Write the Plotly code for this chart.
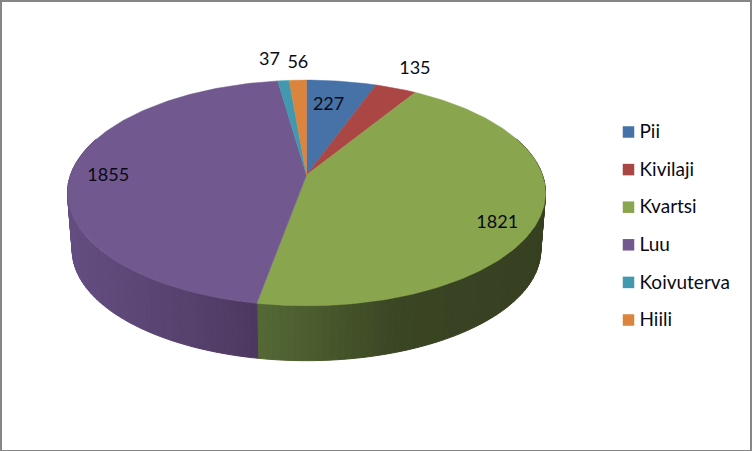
import math
import plotly.graph_objects as go

# data
categories = ["Pii", "Kivilaji", "Kvartsi", "Luu", "Koivuterva", "Hiili"]
values = [227, 135, 1821, 1855, 37, 56]
colors = ["#4672A8", "#AA4643", "#89A54E", "#71588F", "#4198AF", "#DB843D"]

# presentation of the tilted pie
CX, CY, A, B, K = 306.5, 175.0, 236.0, 110.0, 0.159
DEPTH, BOTTOM_SCALE = 57.5, 0.98
LABEL_FONT = 18
LABEL_OFFSETS = [(-13, 24), (19, -19), (-43, 7), (37, 4), (-14, -20), (0, -17)]
LEGEND_X, LEGEND_Y0, LEGEND_STEP = 628.5, 132.0, 37.6
FONT = "Lato, Carlito, sans-serif"

# screen-x colour stops for the shaded rim, per visible slice
RIM = {
    2: [(250, (86, 106, 54)), (330, (71, 87, 43)), (400, (58, 69, 36)), (550, (54, 64, 33))],
    3: [(60, (100, 78, 130)), (100, (96, 74, 124)), (200, (85, 63, 107)), (260, (75, 55, 94))],
}


def project(theta, scale=1.0, dy=0.0):
    s, c = math.sin(theta), math.cos(theta)
    den = 1 + K * c
    return CX + scale * A * s / den, CY + dy - scale * B * c / den


def rim_colour(stops, x):
    if x <= stops[0][0]:
        return stops[0][1]
    for (x0, c0), (x1, c1) in zip(stops, stops[1:]):
        if x <= x1:
            t = (x - x0) / (x1 - x0)
            return tuple(c0[i] + t * (c1[i] - c0[i]) for i in range(3))
    return stops[-1][1]


total = sum(values)
edges = [0.0]
for v in values:
    edges.append(edges[-1] + v / total * 2 * math.pi)

fig = go.Figure()

# side wall: narrow quads along the front of the rim
for i, stops in RIM.items():
    a0, a1 = edges[i], edges[i + 1]
    lo, hi = max(a0, math.radians(70)), min(a1, math.radians(290))
    n = max(2, int((hi - lo) / math.radians(1.5)))
    for j in range(n):
        t0 = lo + (hi - lo) * j / n
        t1 = lo + (hi - lo) * (j + 1) / n
        p0, p1 = project(t0), project(t1)
        q1, q0 = project(t1, BOTTOM_SCALE, DEPTH), project(t0, BOTTOM_SCALE, DEPTH)
        r, g, b = rim_colour(stops, (p0[0] + p1[0]) / 2)
        col = f"rgb({r:.0f},{g:.0f},{b:.0f})"
        fig.add_trace(go.Scatter(
            x=[p0[0], p1[0], q1[0], q0[0], p0[0]],
            y=[p0[1], p1[1], q1[1], q0[1], p0[1]],
            mode="lines", fill="toself", fillcolor=col,
            line=dict(color=col, width=1), hoverinfo="skip", showlegend=False,
        ))

# top face
for i, name in enumerate(categories):
    a0, a1 = edges[i], edges[i + 1]
    n = max(4, int((a1 - a0) / math.radians(1)))
    pts = [project(a0 + (a1 - a0) * j / n) for j in range(n + 1)]
    xs = [CX] + [p[0] for p in pts] + [CX]
    ys = [CY] + [p[1] for p in pts] + [CY]
    fig.add_trace(go.Scatter(
        x=xs, y=ys, mode="lines", fill="toself", fillcolor=colors[i],
        line=dict(color=colors[i], width=0.5), name=name,
        hovertemplate=f"{name}: {values[i]}<extra></extra>", showlegend=False,
    ))

# data labels
lx, ly = [], []
for i in range(len(values)):
    px, py = project((edges[i] + edges[i + 1]) / 2)
    lx.append(px + LABEL_OFFSETS[i][0])
    ly.append(py + LABEL_OFFSETS[i][1])
fig.add_trace(go.Scatter(
    x=lx, y=ly, mode="text", text=[str(v) for v in values],
    textposition="middle center",
    textfont=dict(family=FONT, size=LABEL_FONT, color="#0A0A14"),
    hoverinfo="skip", showlegend=False,
))

# legend column
for i, name in enumerate(categories):
    fig.add_trace(go.Scatter(
        x=[LEGEND_X], y=[LEGEND_Y0 + i * LEGEND_STEP], mode="markers",
        marker=dict(symbol="square", size=11.5, color=colors[i]),
        hoverinfo="skip", showlegend=False,
    ))
    fig.add_trace(go.Scatter(
        x=[LEGEND_X + 11], y=[LEGEND_Y0 + 1.5 + i * LEGEND_STEP], mode="text",
        text=[name], textposition="middle right",
        textfont=dict(family=FONT, size=LABEL_FONT + 1, color="#0A0A14"),
        hoverinfo="skip", showlegend=False,
    ))

fig.update_layout(
    width=752, height=451, margin=dict(l=0, r=0, t=0, b=0),
    paper_bgcolor="white", plot_bgcolor="white", showlegend=False,
    xaxis=dict(range=[0, 752], visible=False, fixedrange=True),
    yaxis=dict(range=[451, 0], visible=False, fixedrange=True),
    shapes=[dict(type="rect", xref="x", yref="y", x0=1, y0=1, x1=751, y1=451,
                 line=dict(color="#868686", width=2), fillcolor="rgba(0,0,0,0)")],
)
fig.write_html("out.html", post_script="document.body.style.margin='0';", config={"displayModeBar": False})
